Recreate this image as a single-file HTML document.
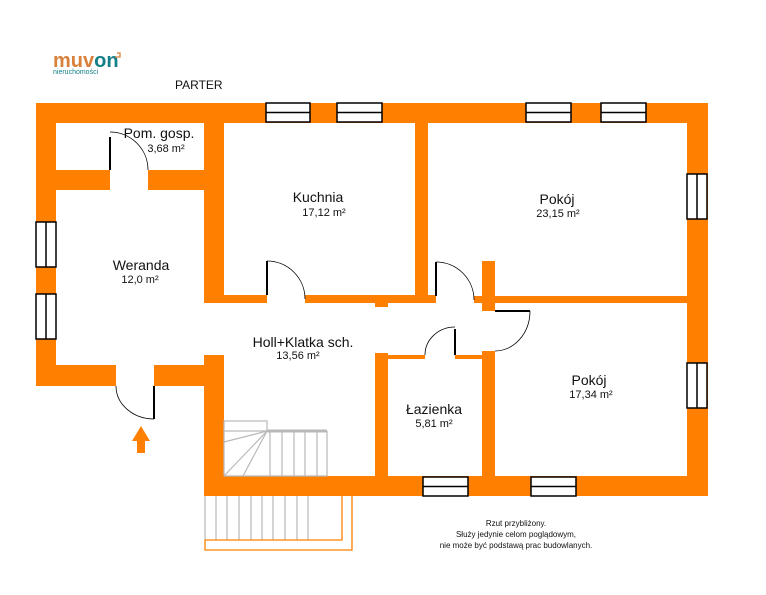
<!DOCTYPE html>
<html><head><meta charset="utf-8"><style>
html,body{margin:0;padding:0;background:#fff;width:766px;height:595px;overflow:hidden}
svg{display:block}
text{font-family:"Liberation Sans","DejaVu Sans",sans-serif;fill:#111}
</style></head><body>
<svg width="766" height="595" viewBox="0 0 766 595" xmlns="http://www.w3.org/2000/svg">
<g fill="#ff8000">
<rect x="36" y="103" width="672" height="20"/>
<rect x="36" y="103" width="20" height="283"/>
<rect x="687" y="103" width="21" height="393"/>
<rect x="204" y="476" width="504" height="20"/>
<rect x="36" y="170" width="74" height="20"/>
<rect x="148" y="170" width="76" height="20"/>
<rect x="204" y="123" width="20" height="180"/>
<rect x="36" y="365" width="80" height="21"/>
<rect x="154" y="365" width="70" height="21"/>
<rect x="204" y="355" width="20" height="141"/>
<rect x="204" y="295" width="63" height="8"/>
<rect x="305" y="295" width="131" height="8"/>
<rect x="375" y="303" width="13" height="4"/>
<rect x="415" y="123" width="13" height="180"/>
<rect x="474" y="296" width="233" height="7"/>
<rect x="482" y="261" width="13" height="50"/>
<rect x="375" y="353" width="13" height="123"/>
<rect x="388" y="355" width="37" height="4"/>
<rect x="455" y="355" width="27" height="4"/>
<rect x="482" y="351" width="13" height="125"/>
</g>
<g fill="#fff" stroke="#000" stroke-width="1.5">
<rect x="266" y="103" width="44" height="19"/><line x1="266" y1="112.5" x2="310" y2="112.5"/>
<rect x="337" y="103" width="45" height="19"/><line x1="337" y1="112.5" x2="382" y2="112.5"/>
<rect x="526" y="103" width="45" height="19"/><line x1="526" y1="112.5" x2="571" y2="112.5"/>
<rect x="601" y="103" width="45" height="19"/><line x1="601" y1="112.5" x2="646" y2="112.5"/>
<rect x="687" y="174" width="20" height="45"/><line x1="697" y1="174" x2="697" y2="219"/>
<rect x="687" y="363" width="20" height="45"/><line x1="697" y1="363" x2="697" y2="408"/>
<rect x="423" y="477" width="45" height="19"/><line x1="423" y1="486.5" x2="468" y2="486.5"/>
<rect x="531" y="477" width="45" height="19"/><line x1="531" y1="486.5" x2="576" y2="486.5"/>
<rect x="36" y="222" width="20" height="45"/><line x1="46" y1="222" x2="46" y2="267"/>
<rect x="36" y="294" width="20" height="45"/><line x1="46" y1="294" x2="46" y2="339"/>
</g>
<g fill="none" stroke="#000">
<line x1="110" y1="137" x2="110" y2="170" stroke-width="2"/>
<path d="M110 132 A38 38 0 0 1 148 170" stroke-width="0.8"/>
<line x1="267" y1="261" x2="267" y2="295" stroke-width="2"/>
<path d="M267 261 A38 38 0 0 1 305 299" stroke-width="0.8"/>
<line x1="436" y1="262" x2="436" y2="296" stroke-width="2"/>
<path d="M436 262 A38 38 0 0 1 474 300" stroke-width="0.8"/>
<line x1="495" y1="311" x2="530" y2="311" stroke-width="2"/>
<path d="M530 311 A35 40 0 0 1 495 351" stroke-width="0.8"/>
<line x1="455" y1="329" x2="455" y2="355" stroke-width="2"/>
<path d="M425 355 A30 28 0 0 1 455 327" stroke-width="0.8"/>
<line x1="154" y1="386" x2="154" y2="419" stroke-width="2"/>
<path d="M116 386 A38 33 0 0 0 154 419" stroke-width="0.8"/>
</g>
<path d="M141 426 L150 441 L145 441 L145 453 L137 453 L137 441 L132 441 Z" fill="#ff8000"/>
<g fill="none" stroke="#b8b8b8" stroke-width="1.2">
<rect x="224" y="421" width="43" height="10"/>
<line x1="267" y1="431" x2="327" y2="431" stroke-width="3"/>
<line x1="224" y1="476" x2="327" y2="476"/>
<line x1="327" y1="431" x2="327" y2="476"/>
<line x1="270" y1="431" x2="270" y2="476"/><line x1="282" y1="431" x2="282" y2="476"/>
<line x1="294" y1="431" x2="294" y2="476"/><line x1="305" y1="431" x2="305" y2="476"/>
<line x1="317" y1="431" x2="317" y2="476"/>
<line x1="224" y1="431" x2="224" y2="476"/>
<line x1="267" y1="431" x2="224" y2="442"/><line x1="267" y1="431" x2="224" y2="476"/>
<line x1="267" y1="431" x2="243" y2="476"/>
<line x1="205" y1="496" x2="205" y2="540"/><line x1="216" y1="496" x2="216" y2="540"/>
<line x1="227" y1="496" x2="227" y2="540"/><line x1="239" y1="496" x2="239" y2="540"/>
<line x1="251" y1="496" x2="251" y2="540"/><line x1="262" y1="496" x2="262" y2="540"/>
<line x1="273" y1="496" x2="273" y2="540"/><line x1="285" y1="496" x2="285" y2="540"/>
<line x1="297" y1="496" x2="297" y2="540"/><line x1="308" y1="496" x2="308" y2="540"/>
</g>
<g fill="none" stroke="#ff8000" stroke-width="1.3">
<polyline points="205,540 342,540 342,496"/>
<polyline points="205,540 205,550 352,550 352,496"/>
</g>
<text x="53" y="67" font-size="20" font-weight="bold" style="fill:#d9803a">muv<tspan style="fill:#137f87">on</tspan></text>
<path d="M117 53 l3 0 l0 4 l-5 0" fill="none" stroke="#d9803a" stroke-width="1.3"/>
<text x="53" y="74" font-size="7" style="fill:#137f87">nieruchomości</text>
<text x="175" y="89" font-size="12">PARTER</text>
<g font-size="14" text-anchor="middle">
<text x="159" y="138">Pom. gosp.</text>
<text x="318" y="202">Kuchnia</text>
<text x="557" y="204">Pokój</text>
<text x="141" y="270">Weranda</text>
<text x="303" y="347">Holl+Klatka sch.</text>
<text x="434" y="414">Łazienka</text>
<text x="589" y="385">Pokój</text>
</g>
<g font-size="11" text-anchor="middle">
<text x="166" y="152">3,68 m²</text>
<text x="324" y="216">17,12 m²</text>
<text x="558" y="217">23,15 m²</text>
<text x="140" y="283">12,0 m²</text>
<text x="298" y="359">13,56 m²</text>
<text x="434" y="427">5,81 m²</text>
<text x="591" y="398">17,34 m²</text>
</g>
<g font-size="8" text-anchor="middle">
<text x="516" y="526">Rzut przybliżony.</text>
<text x="516" y="537">Służy jedynie celom poglądowym,</text>
<text x="516" y="548">nie może być podstawą prac budowlanych.</text>
</g>
</svg>
</body></html>
